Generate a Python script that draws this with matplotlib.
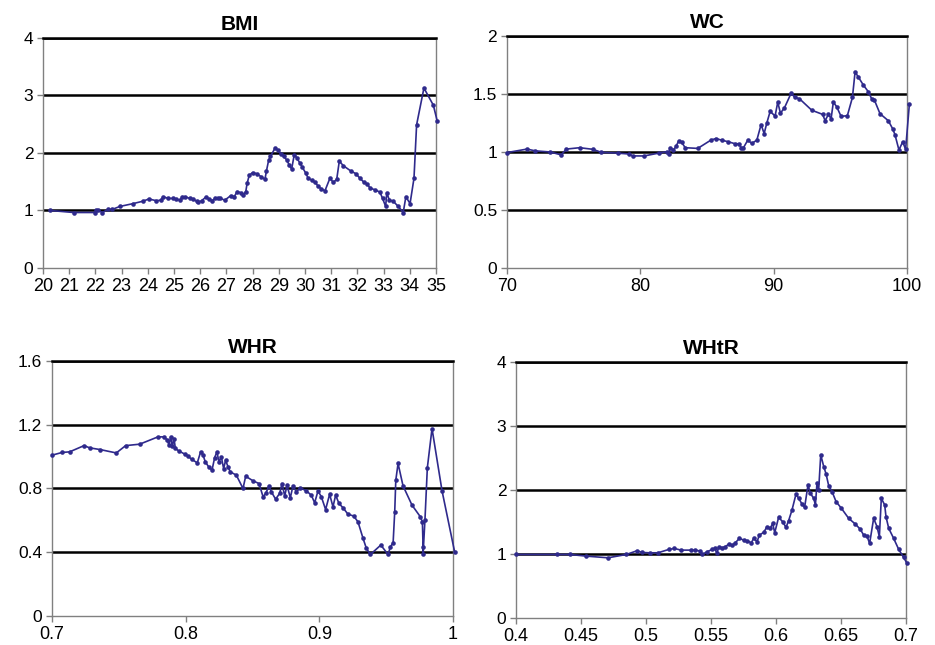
import matplotlib
matplotlib.use('Agg')
import matplotlib.pyplot as plt

plt.rcParams['font.family'] = ['Liberation Sans', 'DejaVu Sans']

# BMI panel
bmi_x = [20.28, 21.17, 21.97, 22.04, 22.1, 22.27, 22.48, 22.65, 22.93, 23.44, 23.8,
         24.04, 24.33, 24.5, 24.58, 24.78, 24.97, 25.09, 25.22, 25.32, 25.41, 25.6,
         25.73, 25.86, 25.92, 26.05, 26.21, 26.34, 26.46, 26.56, 26.69, 26.77, 26.94,
         27.17, 27.3, 27.41, 27.54, 27.64, 27.74, 27.79, 27.87, 28.0, 28.15, 28.32,
         28.47, 28.53, 28.61, 28.68, 28.85, 28.98, 29.08, 29.19, 29.3, 29.4, 29.49,
         29.59, 29.68, 29.8, 29.9, 30.03, 30.12, 30.25, 30.38, 30.51, 30.61, 30.76,
         30.95, 31.08, 31.21, 31.31, 31.46, 31.74, 31.94, 32.1, 32.25, 32.38, 32.48,
         32.67, 32.86, 32.96, 33.08, 33.12, 33.22, 33.37, 33.56, 33.75, 33.85, 34.01,
         34.16, 34.26, 34.54, 34.9, 35.05]
bmi_y = [1.0, 0.965, 0.965, 1.0, 1.0, 0.965, 1.02, 1.02, 1.07, 1.12, 1.16,
         1.2, 1.17, 1.18, 1.24, 1.21, 1.21, 1.2, 1.18, 1.24, 1.24, 1.21,
         1.2, 1.16, 1.14, 1.17, 1.23, 1.2, 1.17, 1.21, 1.21, 1.21, 1.18,
         1.26, 1.24, 1.33, 1.31, 1.27, 1.33, 1.47, 1.61, 1.66, 1.64, 1.59,
         1.54, 1.69, 1.87, 1.94, 2.08, 2.05, 1.98, 1.94, 1.88, 1.79, 1.72,
         1.97, 1.92, 1.83, 1.75, 1.65, 1.56, 1.53, 1.49, 1.42, 1.38, 1.34,
         1.56, 1.49, 1.54, 1.86, 1.78, 1.69, 1.64, 1.56, 1.49, 1.46, 1.39,
         1.36, 1.32, 1.21, 1.07, 1.31, 1.18, 1.16, 1.07, 0.965, 1.24, 1.12,
         1.56, 2.49, 3.13, 2.83, 2.55]

# WC panel
wc_x = [70.0, 71.5, 72.12, 73.25, 74.07, 74.45, 75.45, 76.45, 77.07, 78.32, 79.12,
        79.42, 80.29, 81.37, 81.99, 82.12, 82.24, 82.49, 82.69, 82.87, 83.11, 83.37,
        84.31, 85.29, 85.66, 86.11, 86.61, 87.11, 87.41, 87.56, 87.74, 88.06, 88.36,
        88.74, 89.06, 89.29, 89.49, 89.74, 90.11, 90.31, 90.51, 90.81, 91.31, 91.61,
        91.93, 92.86, 93.68, 93.86, 94.11, 94.31, 94.48, 94.73, 95.06, 95.53, 95.91,
        96.11, 96.36, 96.73, 97.1, 97.35, 97.55, 97.98, 98.6, 98.93, 99.1, 99.4,
        99.68, 99.9, 100.18]
wc_y = [0.995, 1.025, 1.01, 1.0, 0.975, 1.025, 1.037, 1.023, 0.997, 0.99, 0.983,
        0.966, 0.966, 0.99, 1.003, 0.986, 1.037, 1.017, 1.05, 1.094, 1.082, 1.037,
        1.031, 1.102, 1.116, 1.102, 1.088, 1.071, 1.071, 1.037, 1.037, 1.102, 1.074,
        1.102, 1.236, 1.159, 1.25, 1.35, 1.31, 1.43, 1.335, 1.38, 1.506, 1.47,
        1.46, 1.36, 1.324, 1.27, 1.324, 1.287, 1.43, 1.39, 1.307, 1.313, 1.47,
        1.69, 1.645, 1.577, 1.52, 1.46, 1.45, 1.33, 1.27, 1.2, 1.15, 1.017,
        1.088, 1.023, 1.41]

# WHR panel
whr_x = [0.7, 0.7075, 0.7132, 0.724, 0.7282, 0.7362, 0.7481, 0.7551, 0.7656, 0.7793,
         0.7838, 0.7863, 0.7875, 0.7888, 0.79, 0.7913, 0.7923, 0.7948, 0.7995, 0.8017,
         0.8047, 0.8087, 0.8112, 0.813, 0.8147, 0.8172, 0.8197, 0.8217, 0.8234, 0.8249,
         0.8267, 0.8284, 0.8299, 0.8317, 0.8334, 0.8379, 0.8429, 0.8449, 0.8504, 0.8549,
         0.8579, 0.8599, 0.8624, 0.8641, 0.8673, 0.8703, 0.8721, 0.8741, 0.8758, 0.8783,
         0.8803, 0.8828, 0.8858, 0.8903, 0.894, 0.8965, 0.899, 0.9015, 0.9047, 0.9077,
         0.9102, 0.9122, 0.9147, 0.9177, 0.9214, 0.9257, 0.9289, 0.9327, 0.9352, 0.9382,
         0.946, 0.9514, 0.9532, 0.9552, 0.9564, 0.9572, 0.9589, 0.9626, 0.9693, 0.9756,
         0.9771, 0.9776, 0.9776, 0.979, 0.9808, 0.9843, 0.9918, 1.0012]
whr_y = [1.009, 1.026, 1.03, 1.069, 1.055, 1.044, 1.023, 1.069, 1.078, 1.124,
         1.124, 1.103, 1.072, 1.124, 1.065, 1.113, 1.051, 1.036, 1.015, 1.003,
         0.982, 0.961, 1.03, 1.009, 0.967, 0.936, 0.915, 0.994, 1.03, 0.967,
         0.998, 0.925, 0.977, 0.936, 0.904, 0.884, 0.8, 0.877, 0.848, 0.831,
         0.748, 0.769, 0.817, 0.779, 0.733, 0.769, 0.831, 0.752, 0.821, 0.742,
         0.817, 0.779, 0.804, 0.785, 0.758, 0.71, 0.785, 0.748, 0.668, 0.764,
         0.685, 0.758, 0.706, 0.679, 0.639, 0.627, 0.591, 0.487, 0.424, 0.386,
         0.445, 0.386, 0.434, 0.46, 0.654, 0.852, 0.957, 0.817, 0.696, 0.622,
         0.591, 0.434, 0.386, 0.6, 0.93, 1.176, 0.785, 0.403]

# WHtR panel
whtr_x = [0.4, 0.4315, 0.4413, 0.4541, 0.4708, 0.4849, 0.4931, 0.4969, 0.5028, 0.5092,
          0.5174, 0.5218, 0.5269, 0.5346, 0.5379, 0.5418, 0.5431, 0.5469, 0.5508, 0.5528,
          0.5546, 0.5559, 0.5585, 0.561, 0.5636, 0.5662, 0.5687, 0.5718, 0.5751, 0.5777,
          0.581, 0.5828, 0.5854, 0.5872, 0.5905, 0.5931, 0.5956, 0.5974, 0.599, 0.602,
          0.6051, 0.6077, 0.6097, 0.6123, 0.6154, 0.6174, 0.62, 0.622, 0.6246, 0.6264,
          0.629, 0.6303, 0.6315, 0.6328, 0.6344, 0.6367, 0.6385, 0.6405, 0.6431, 0.6462,
          0.6503, 0.6559, 0.661, 0.6649, 0.6674, 0.67, 0.672, 0.6751, 0.6777, 0.6795,
          0.681, 0.6836, 0.6846, 0.6867, 0.6905, 0.6944, 0.6982, 0.7008]
whtr_y = [0.992, 0.992, 0.992, 0.966, 0.94, 0.992, 1.05, 1.023, 1.018, 1.018,
          1.07, 1.086, 1.06, 1.06, 1.06, 1.044, 0.992, 1.034, 1.07, 1.086,
          1.008, 1.112, 1.097, 1.112, 1.154, 1.133, 1.175, 1.243, 1.217, 1.206,
          1.175, 1.243, 1.19, 1.295, 1.337, 1.426, 1.4, 1.478, 1.332, 1.572,
          1.504, 1.415, 1.52, 1.687, 1.937, 1.869, 1.78, 1.728, 2.078, 1.948,
          1.869, 1.765, 2.104, 2.0, 2.548, 2.366, 2.25, 2.068, 1.974, 1.817,
          1.713, 1.556, 1.467, 1.384, 1.295, 1.279, 1.164, 1.556, 1.426, 1.269,
          1.869, 1.765, 1.582, 1.4, 1.243, 1.07, 0.945, 0.851]

panels = [
    ('BMI', bmi_x, bmi_y, [0.046, 0.5845, 0.4203, 0.3566],
     (20, 35), list(range(20, 36)), [str(v) for v in range(20, 36)],
     (0, 4), [0, 1, 2, 3, 4], ['0', '1', '2', '3', '4']),
    ('WC', wc_x, wc_y, [0.5422, 0.5845, 0.4278, 0.3597],
     (70, 100), [70, 80, 90, 100], ['70', '80', '90', '100'],
     (0, 2), [0, 0.5, 1, 1.5, 2], ['0', '0.5', '1', '1.5', '2']),
    ('WHR', whr_x, whr_y, [0.0556, 0.045, 0.4289, 0.3953],
     (0.7, 1.0), [0.7, 0.8, 0.9, 1.0], ['0.7', '0.8', '0.9', '1'],
     (0, 1.6), [0, 0.4, 0.8, 1.2, 1.6], ['0', '0.4', '0.8', '1.2', '1.6']),
    ('WHtR', whtr_x, whtr_y, [0.5519, 0.0419, 0.4171, 0.397],
     (0.4, 0.7), [0.4, 0.45, 0.5, 0.55, 0.6, 0.65, 0.7],
     ['0.4', '0.45', '0.5', '0.55', '0.6', '0.65', '0.7'],
     (0, 4), [0, 1, 2, 3, 4], ['0', '1', '2', '3', '4']),
]

line_color = '#2f2a8c'
axis_gray = '#808080'

fig = plt.figure(figsize=(9.35, 6.45), dpi=100)

for (title, xs, ys, pos, xlim, xticks, xlabels, ylim, yticks, ylabels) in panels:
    ax = fig.add_axes(pos)
    for yv in yticks[1:]:
        ax.axhline(yv, color='black', linewidth=1.8, zorder=1)
    ax.plot(xs, ys, '-', color=line_color, linewidth=1.2, marker='o',
            markersize=3.3, markeredgewidth=0, clip_on=False, zorder=3)
    ax.set_xlim(xlim)
    ax.set_ylim(ylim)
    ax.set_xticks(xticks)
    ax.set_xticklabels(xlabels, fontsize=13)
    ax.set_yticks(yticks)
    ax.set_yticklabels(ylabels, fontsize=12.5)
    ax.tick_params(direction='out', length=4, width=1, color=axis_gray, pad=3)
    for side in ('left', 'bottom', 'right'):
        ax.spines[side].set_color(axis_gray)
        ax.spines[side].set_linewidth(1.0)
    ax.spines['top'].set_color('black')
    ax.spines['top'].set_linewidth(1.8)
    ax.set_title(title, fontsize=15, fontweight='bold', pad=6)

fig.savefig('out.png', dpi=100)
